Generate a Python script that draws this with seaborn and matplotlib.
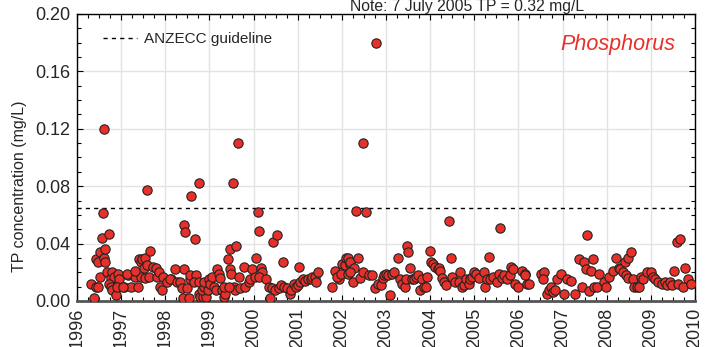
import numpy as np
import pandas as pd
import seaborn as sns
import matplotlib.pyplot as plt
from matplotlib.ticker import MultipleLocator, FormatStrFormatter

# sampling dates (decimal years) and total phosphorus (mg/L)
year_9698 = [1996.38, 1996.32, 1996.42, 1996.47, 1996.51, 1996.44, 1996.47, 1996.51, 1996.62, 1996.64,
             1996.63, 1996.57, 1996.59, 1996.72, 1996.69, 1996.76, 1996.79, 1996.83, 1996.72, 1996.76,
             1996.79, 1996.89, 1996.92, 1996.94, 1996.91, 1997.06, 1997.15, 1997.22, 1997.37, 1997.32,
             1997.40, 1997.44, 1997.47, 1997.55, 1997.51, 1997.59, 1997.66, 1997.59, 1997.44, 1997.55,
             1997.62, 1997.72, 1997.78, 1997.81, 1997.85, 1997.87, 1997.93, 1997.95, 1998.04, 1998.13,
             1996.60, 1997.13, 1997.31, 1997.05]
tp_9698 = [0.002, 0.012, 0.010, 0.010, 0.017, 0.029, 0.027, 0.034, 0.030, 0.036,
           0.027, 0.044, 0.061, 0.047, 0.020, 0.016, 0.020, 0.017, 0.012, 0.010,
           0.008, 0.004, 0.019, 0.015, 0.010, 0.010, 0.018, 0.010, 0.010, 0.017,
           0.029, 0.027, 0.029, 0.030, 0.023, 0.025, 0.035, 0.077, 0.017, 0.016,
           0.017, 0.024, 0.023, 0.017, 0.020, 0.010, 0.008, 0.017, 0.013, 0.015,
           0.120, 0.019, 0.021, 0.010]

year_9800 = [1998.76, 1998.59, 1998.43, 1998.45, 1998.68, 1998.10, 1998.21, 1998.42, 1998.27, 1998.34,
             1998.38, 1998.40, 1998.53, 1998.49, 1998.57, 1998.55, 1998.70, 1998.64, 1998.76, 1998.76,
             1998.79, 1998.86, 1998.93, 1998.83, 1998.88, 1998.96, 1998.87, 1998.98, 1999.02, 1999.06,
             1999.10, 1999.14, 1999.17, 1999.21, 1999.25, 1999.29, 1999.32, 1999.36, 1999.34, 1999.41,
             1999.46, 1999.49, 1999.47, 1999.53, 1999.61, 1999.55, 1999.59, 1999.44, 1999.66, 1999.70,
             1999.78, 1999.81, 1999.89, 1999.93, 1999.97, 2000.04, 2000.06, 2000.09, 2000.12, 2000.17,
             1999.65]
tp_9800 = [0.082, 0.073, 0.053, 0.048, 0.043, 0.015, 0.022, 0.022, 0.013, 0.013,
           0.009, 0.002, 0.002, 0.009, 0.015, 0.018, 0.018, 0.013, 0.013, 0.005,
           0.003, 0.003, 0.003, 0.008, 0.010, 0.008, 0.013, 0.015, 0.012, 0.017,
           0.010, 0.008, 0.022, 0.019, 0.016, 0.008, 0.003, 0.005, 0.010, 0.029,
           0.022, 0.019, 0.036, 0.082, 0.038, 0.010, 0.008, 0.010, 0.017, 0.009,
           0.024, 0.010, 0.013, 0.015, 0.022, 0.017, 0.030, 0.062, 0.049, 0.023,
           0.110]

year_0002 = [2000.19, 2000.12, 2000.29, 2000.34, 2000.37, 2000.44, 2000.52, 2000.42, 2000.49, 2000.57,
             2000.61, 2000.67, 2000.70, 2000.76, 2000.82, 2000.85, 2000.91, 2000.97, 2001.00, 2001.04,
             2001.06, 2001.12, 2001.17, 2001.23, 2001.29, 2001.32, 2001.40, 2001.42, 2001.45, 2001.78,
             2001.85, 2001.93, 2001.89, 2002.00, 2002.06, 2002.10, 2001.97, 2002.18, 2002.15]
tp_0002 = [0.020, 0.017, 0.015, 0.010, 0.002, 0.041, 0.046, 0.009, 0.008, 0.009,
           0.011, 0.027, 0.010, 0.009, 0.005, 0.008, 0.012, 0.010, 0.011, 0.024,
           0.013, 0.015, 0.014, 0.015, 0.015, 0.017, 0.017, 0.013, 0.020, 0.010,
           0.021, 0.015, 0.017, 0.026, 0.025, 0.030, 0.019, 0.026, 0.019]

year_0204 = [2002.33, 2002.55, 2002.48, 2002.77, 2002.15, 2002.18, 2002.27, 2002.36, 2002.19, 2002.25,
             2002.40, 2002.48, 2002.61, 2002.68, 2002.74, 2002.83, 2002.89, 2002.93, 2002.96, 2003.01,
             2003.04, 2003.08, 2003.14, 2003.19, 2003.27, 2003.31, 2003.36, 2003.42, 2003.46, 2003.48,
             2003.50, 2003.55, 2003.59, 2003.64, 2003.69, 2003.72, 2003.78, 2003.82, 2003.85, 2003.91,
             2003.94, 2004.00, 2004.02, 2004.07, 2004.12, 2004.17]
tp_0204 = [0.063, 0.062, 0.110, 0.180, 0.030, 0.027, 0.023, 0.030, 0.020, 0.013,
           0.016, 0.020, 0.018, 0.018, 0.009, 0.012, 0.011, 0.016, 0.018, 0.019,
           0.018, 0.004, 0.019, 0.020, 0.030, 0.015, 0.012, 0.010, 0.015, 0.038,
           0.034, 0.023, 0.015, 0.015, 0.017, 0.018, 0.008, 0.015, 0.010, 0.010,
           0.017, 0.035, 0.027, 0.026, 0.024, 0.022]

year_0406 = [2004.42, 2004.47, 2005.59, 2005.33, 2004.19, 2004.23, 2004.27, 2004.31, 2004.37, 2004.50,
             2004.57, 2004.65, 2004.67, 2004.72, 2004.76, 2004.82, 2004.87, 2004.91, 2004.95, 2005.00,
             2005.05, 2005.10, 2005.21, 2005.25, 2005.29, 2005.36, 2005.42, 2005.52, 2005.55, 2005.63,
             2005.67, 2005.74, 2005.80, 2005.83, 2005.88, 2005.93, 2005.99, 2006.08, 2006.14, 2006.20,
             2006.16]
tp_0406 = [0.056, 0.030, 0.051, 0.031, 0.023, 0.021, 0.016, 0.013, 0.011, 0.017,
           0.013, 0.013, 0.020, 0.010, 0.011, 0.015, 0.012, 0.015, 0.017, 0.020,
           0.019, 0.016, 0.020, 0.010, 0.015, 0.015, 0.017, 0.013, 0.019, 0.016,
           0.018, 0.015, 0.018, 0.024, 0.022, 0.012, 0.010, 0.021, 0.019, 0.012,
           0.018]

year_0608 = [2006.23, 2006.51, 2006.59, 2006.56, 2006.65, 2006.69, 2006.74, 2006.78, 2006.84, 2006.87,
             2006.97, 2007.03, 2007.10, 2007.18, 2007.29, 2007.37, 2007.49, 2007.55, 2007.52, 2007.44,
             2007.61, 2007.65, 2007.69, 2007.71, 2007.78, 2007.82, 2007.93, 2007.99, 2008.05, 2008.14,
             2008.22, 2008.27]
tp_0608 = [0.012, 0.019, 0.020, 0.015, 0.005, 0.008, 0.010, 0.006, 0.008, 0.015,
           0.019, 0.005, 0.015, 0.014, 0.005, 0.029, 0.027, 0.046, 0.022, 0.010,
           0.007, 0.021, 0.029, 0.010, 0.010, 0.019, 0.013, 0.010, 0.017, 0.021,
           0.030, 0.023]

year_0810 = [2008.30, 2008.36, 2008.41, 2008.49, 2008.54, 2008.44, 2008.49, 2008.59, 2008.62, 2008.68,
             2008.74, 2008.77, 2008.83, 2008.91, 2009.00, 2009.06, 2009.10, 2009.17, 2009.25, 2009.32,
             2009.37, 2009.44, 2009.47, 2009.52, 2009.59, 2009.65, 2009.62, 2009.72, 2009.77, 2009.85,
             2009.92]
tp_0810 = [0.022, 0.020, 0.027, 0.030, 0.034, 0.018, 0.016, 0.015, 0.010, 0.010,
           0.010, 0.017, 0.015, 0.020, 0.020, 0.017, 0.015, 0.013, 0.012, 0.013,
           0.011, 0.013, 0.011, 0.021, 0.041, 0.043, 0.012, 0.010, 0.023, 0.015,
           0.012]

guideline = 0.065
year_ticks = list(range(1996, 2011))

df = pd.DataFrame({
    "year": year_9698 + year_9800 + year_0002 + year_0204 + year_0406 + year_0608 + year_0810,
    "tp": tp_9698 + tp_9800 + tp_0002 + tp_0204 + tp_0406 + tp_0608 + tp_0810,
})

sns.set_style("white")
plt.rcParams["font.family"] = ["Liberation Sans", "DejaVu Sans"]

fig = plt.figure(figsize=(7.08, 3.47), dpi=100)
ax = fig.add_axes([0.1088, 0.1326, 0.8728, 0.8271])

ax.grid(True, color="#e3e3e3", linewidth=1, zorder=0)
ax.set_axisbelow(True)

ax.axhline(guideline, color="black", linewidth=1, linestyle=(0, (3, 3)),
           label="ANZECC guideline", zorder=2)

sns.scatterplot(data=df, x="year", y="tp", ax=ax, s=45, color="#e8302a",
                edgecolor="#222222", linewidth=0.8, zorder=3, legend=False)

ax.set_xlim(1996, 2010)
ax.set_ylim(0, 0.20)
ax.set_xticks(year_ticks)
ax.set_xticklabels([str(y) for y in year_ticks], rotation=90, fontsize=13)
ax.xaxis.set_minor_locator(MultipleLocator(0.25))
ax.yaxis.set_major_locator(MultipleLocator(0.04))
ax.yaxis.set_minor_locator(MultipleLocator(0.01))
ax.yaxis.set_major_formatter(FormatStrFormatter("%.2f"))
ax.tick_params(axis="y", labelsize=13, pad=5)
ax.tick_params(axis="x", pad=5)
ax.tick_params(which="both", direction="in", top=True, right=True, bottom=True, left=True,
               color="black")
ax.tick_params(which="major", length=4, width=0.8)
ax.tick_params(which="minor", length=3, width=0.8)

ax.set_xlabel("")
ax.set_ylabel("TP concentration (mg/L)", fontsize=11.5)
ax.yaxis.set_label_coords(-0.081, 0.40)

for side in ["top", "left", "right"]:
    ax.spines[side].set_color("black")
    ax.spines[side].set_linewidth(1)
ax.spines["bottom"].set_color("#555555")
ax.spines["bottom"].set_linewidth(2)

ax.legend(loc="upper left", frameon=False, fontsize=11, handlelength=2.2,
          handletextpad=0.5, bbox_to_anchor=(0.02, 0.985))

ax.text(0.969, 0.892, "Phosphorus", transform=ax.transAxes, ha="right", va="center",
        color="#e8302a", fontsize=15.5, style="italic")
fig.text(350 / 708, 1 - 11.5 / 347, "Note: 7 July 2005 TP = 0.32 mg/L", ha="left",
         va="baseline", fontsize=11.3)

fig.savefig("out.png", dpi=100)
